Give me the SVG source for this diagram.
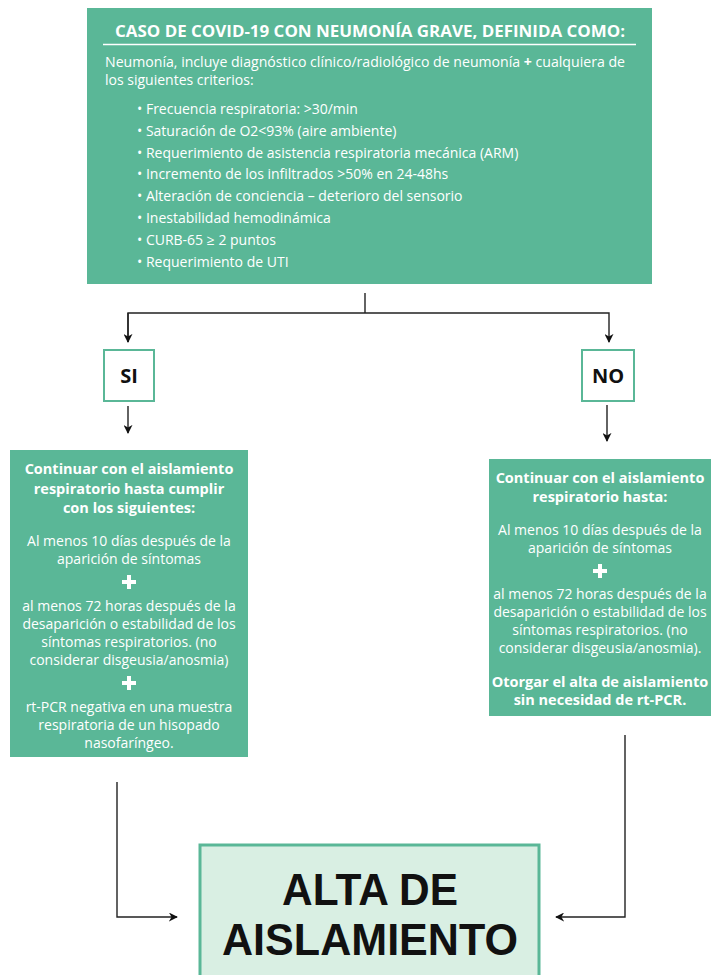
<svg xmlns="http://www.w3.org/2000/svg" width="720" height="975" viewBox="0 0 720 975">
<defs>
<marker id="ah" viewBox="0 0 10 10" refX="9" refY="5" markerWidth="9" markerHeight="9" markerUnits="userSpaceOnUse" orient="auto">
<path d="M0,0 L10,5 L0,10 L3,5 Z" fill="#111"/>
</marker>
<style>
.box{fill:#5ab797;}
.w{fill:#fff;font-family:"Open Sans","Liberation Sans",sans-serif;}
.hd{font-size:16px;font-weight:700;}
.tx{font-size:14px;}
.b{font-weight:700;font-size:14.5px;}
.c{text-anchor:middle;}
.lbl{fill:#fff;stroke:#5ab797;stroke-width:2;}
.k{fill:#111;font-family:"Open Sans","Liberation Sans",sans-serif;font-weight:700;text-anchor:middle;}
.big{fill:#111;font-family:"Liberation Sans",Arial,sans-serif;font-weight:700;text-anchor:middle;font-size:44.5px;}
.ln{fill:none;stroke:#222;stroke-width:1.4;}
</style>
</defs>
<rect width="720" height="975" fill="#fff"/>

<g id="top">
<rect class="box" x="87" y="8" width="565" height="276"/>
<text class="w hd c" x="370" y="37" textLength="510" lengthAdjust="spacingAndGlyphs">CASO DE COVID-19 CON NEUMONÍA GRAVE, DEFINIDA COMO:</text>
<line x1="103" y1="44.5" x2="636" y2="44.5" stroke="#fff" stroke-width="1.5"/>
<text class="w tx" x="105" y="67" textLength="520" lengthAdjust="spacingAndGlyphs">Neumonía, incluye diagnóstico clínico/radiológico de neumonía <tspan font-weight="700">+</tspan> cualquiera de</text>
<text class="w tx" x="105" y="85">los siguientes criterios:</text>
<text class="w tx" x="137" y="114">• Frecuencia respiratoria: &gt;30/min</text>
<text class="w tx" x="137" y="136">• Saturación de O2&lt;93% (aire ambiente)</text>
<text class="w tx" x="137" y="158">• Requerimiento de asistencia respiratoria mecánica (ARM)</text>
<text class="w tx" x="137" y="179">• Incremento de los infiltrados &gt;50% en 24-48hs</text>
<text class="w tx" x="137" y="201">• Alteración de conciencia – deterioro del sensorio</text>
<text class="w tx" x="137" y="223">• Inestabilidad hemodinámica</text>
<text class="w tx" x="137" y="245">• CURB-65 ≥ 2 puntos</text>
<text class="w tx" x="137" y="267">• Requerimiento de UTI</text>
</g>

<g id="si">
<rect class="lbl" x="104" y="350" width="50" height="51"/>
<text class="k" x="129" y="383" font-size="20">SI</text>
</g>

<g id="no">
<rect class="lbl" x="582" y="350" width="52" height="51"/>
<text class="k" x="608" y="383" font-size="20">NO</text>
</g>

<g id="left">
<rect class="box" x="10" y="450" width="238" height="307"/>
<text class="w b c" x="129" y="474">Continuar con el aislamiento</text>
<text class="w b c" x="129" y="494">respiratorio hasta cumplir</text>
<text class="w b c" x="129" y="513">con los siguientes:</text>
<text class="w tx c" x="129" y="546">Al menos 10 días después de la</text>
<text class="w tx c" x="129" y="564">aparición de síntomas</text>
<path d="M129,575 v14 M122,582 h14" stroke="#fff" stroke-width="4"/>
<text class="w tx c" x="129" y="611">al menos 72 horas después de la</text>
<text class="w tx c" x="129" y="629">desaparición o estabilidad de los</text>
<text class="w tx c" x="129" y="647">síntomas respiratorios. (no</text>
<text class="w tx c" x="129" y="665">considerar disgeusia/anosmia)</text>
<path d="M129,676 v14 M122,683 h14" stroke="#fff" stroke-width="4"/>
<text class="w tx c" x="129" y="712">rt-PCR negativa en una muestra</text>
<text class="w tx c" x="129" y="730">respiratoria de un hisopado</text>
<text class="w tx c" x="129" y="748">nasofaríngeo.</text>
</g>

<g id="right">
<rect class="box" x="489" y="459" width="222" height="257"/>
<text class="w b c" x="600" y="483">Continuar con el aislamiento</text>
<text class="w b c" x="600" y="502">respiratorio hasta:</text>
<text class="w tx c" x="600" y="535">Al menos 10 días después de la</text>
<text class="w tx c" x="600" y="553">aparición de síntomas</text>
<path d="M600,564 v14 M593,571 h14" stroke="#fff" stroke-width="4"/>
<text class="w tx c" x="600" y="599">al menos 72 horas después de la</text>
<text class="w tx c" x="600" y="617">desaparición o estabilidad de los</text>
<text class="w tx c" x="600" y="635">síntomas respiratorios. (no</text>
<text class="w tx c" x="600" y="653">considerar disgeusia/anosmia).</text>
<text class="w b c" x="600" y="687">Otorgar el alta de aislamiento</text>
<text class="w b c" x="600" y="705">sin necesidad de rt-PCR.</text>
</g>

<g id="alta">
<rect x="200" y="845" width="339" height="140" fill="#d9efe3" stroke="#5ab797" stroke-width="3"/>
<text class="big" x="370" y="905" textLength="176" lengthAdjust="spacingAndGlyphs">ALTA DE</text>
<text class="big" x="370" y="955" textLength="296" lengthAdjust="spacingAndGlyphs">AISLAMIENTO</text>
</g>

<g id="connectors">
<path class="ln" d="M365,293 V313"/>
<path class="ln" d="M128,342 V313 H609 V342" marker-end="url(#ah)"/>
<path class="ln" d="M128,313 V342" marker-end="url(#ah)"/>
<path class="ln" d="M128,406 V433" marker-end="url(#ah)"/>
<path class="ln" d="M607,405 V441" marker-end="url(#ah)"/>
<path class="ln" d="M117,782 V917 H177" marker-end="url(#ah)"/>
<path class="ln" d="M625,735 V917 H556" marker-end="url(#ah)"/>
</g>
</svg>
